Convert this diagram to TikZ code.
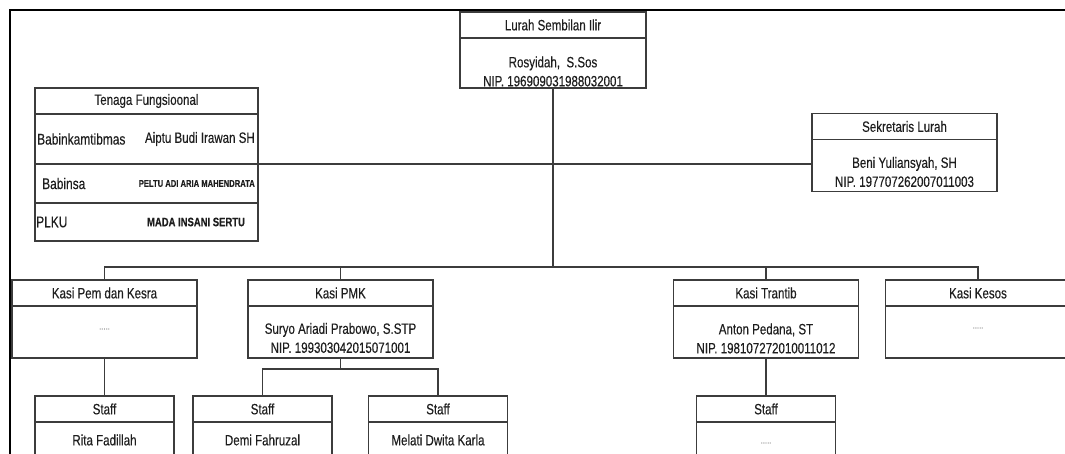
\documentclass[tikz,border=0pt]{standalone}
\usepackage{fontspec}
\setmainfont{Liberation Sans}[FakeStretch=0.77, FakeBold=0.3]
\usetikzlibrary{positioning}
\definecolor{boxgray}{HTML}{3C3C3C}
\definecolor{textgray}{HTML}{1E1E1E}

\begin{document}
\begin{tikzpicture}[x=1pt, y=-1pt,
    box/.style={draw=boxgray, line width=1.2pt, outer sep=0pt, inner sep=0pt,
        minimum height=26pt, text=textgray, font=\fontsize{15}{19}\selectfont},
    txt/.style={text=textgray, align=center, inner sep=0pt, font=\fontsize{15}{19}\selectfont},
    dots/.style={text=gray!70, inner sep=0pt, font=\fontsize{10}{10}\selectfont},
    link/.style={draw=boxgray, line width=1.1pt}]
    \useasboundingbox (0,0) rectangle (1065,454);
    % frame of the screenshot
    \draw[line width=2.5pt] (10,454) -- (10,9.8) -- (1065,9.8);
    % lurah
    \node[box, minimum width=186pt] (lurahH) at (553,25) {Lurah Sembilan Ilir};
    \node[box, minimum width=186pt, minimum height=50pt, below=0pt of lurahH] (lurahB) {};
    \node[txt] (lurahT) at ([yshift=-8.5pt]lurahB.center) {Rosyidah,\ \ S.Sos\\NIP. 196909031988032001};
    % sekretaris
    \node[box, minimum width=185pt] (sekH) at (904.5,126.5) {Sekretaris Lurah};
    \node[box, minimum width=185pt, minimum height=52pt, below=0pt of sekH] (sekB) {};
    \node[txt] (sekT) at ([yshift=-6.5pt]sekB.center) {Beni Yuliansyah, SH\\NIP. 197707262007011003};
    % tenaga fungsional
    \node[box, minimum width=223pt] (tfH) at (146.5,101) {Tenaga Fungsioonal};
    \node[box, minimum width=223pt, minimum height=50pt, below=0pt of tfH] (tfA) {};
    \node[box, minimum width=223pt, minimum height=39pt, below=0pt of tfA] (tfB) {};
    \node[box, minimum width=223pt, minimum height=38pt, below=0pt of tfB] (tfC) {};
    \node[txt, anchor=west, font=\fontsize{15.5}{17}\selectfont] (tfA-l) at ([xshift=2pt]tfA.west) {Babinkamtibmas};
    \node[txt, anchor=east] (tfA-r) at ([xshift=-3pt]tfA.east) {Aiptu Budi Irawan SH};
    \node[txt, anchor=west, font=\fontsize{15.5}{17}\selectfont] (tfB-l) at ([xshift=7pt]tfB.west) {Babinsa};
    \node[txt, anchor=east, font=\fontsize{9.9}{11}\selectfont\bfseries] (tfB-r) at ([xshift=-3pt]tfB.east) {PELTU ADI ARIA MAHENDRATA};
    \node[txt, anchor=west, font=\fontsize{15.5}{17}\selectfont] (tfC-l) at ([xshift=1pt]tfC.west) {PLKU};
    \node[txt, font=\fontsize{12.3}{13}\selectfont\bfseries] (tfC-r) at ([xshift=49.5pt]tfC.center) {MADA INSANI SERTU};
    % kasi
    \foreach \x/\n/\t in {104.5/pem/Kasi Pem dan Kesra, 340.5/pmk/Kasi PMK,
        766/trantib/Kasi Trantib, 978/kesos/Kasi Kesos} {
        \node[box, minimum width=185pt] (\n-h) at (\x,293) {\t};
        \node[box, minimum width=185pt, minimum height=52pt, below=0pt of \n-h] (\n-b) {};
    }
    \node[dots] (pem-t) at ([yshift=3pt]pem-b.center) {.....};
    \node[txt] (pmk-t) at ([yshift=-6pt]pmk-b.center) {Suryo Ariadi Prabowo, S.STP\\NIP. 199303042015071001};
    \node[txt] (trantib-t) at ([yshift=-6.5pt]trantib-b.center) {Anton Pedana, ST\\NIP. 198107272010011012};
    \node[dots] (kesos-t) at ([yshift=4pt]kesos-b.center) {.....};
    % staff
    \foreach \x/\n in {104.5/rita, 262.5/demi, 438/melati, 766/anton} {
        \node[box, minimum width=139pt] (\n-h) at (\x,409) {Staff};
        \node[box, minimum width=139pt, minimum height=40pt, below=0pt of \n-h] (\n-b) {};
    }
    \node[txt] (rita-t) at ([yshift=2pt]rita-b.center) {Rita Fadillah};
    \node[txt] (demi-t) at ([yshift=2pt]demi-b.center) {Demi Fahruzal};
    \node[txt] (melati-t) at ([yshift=2pt]melati-b.center) {Melati Dwita Karla};
    \node[dots] (anton-t) at ([yshift=-1pt]anton-b.center) {.....};
    % connectors
    \coordinate (bus) at (553,267);
    \coordinate (pmkbus) at (340.5,369);
    \draw[link] (lurahB.south) -- (bus);
    \draw[link] (tfA.south east) -- (tfA.south east -| sekB.west);
    \draw[link] (pem-h.north) |- (bus) -| (kesos-h.north);
    \draw[link] (pmk-h.north) -- (pmk-h.north |- bus);
    \draw[link] (trantib-h.north) -- (trantib-h.north |- bus);
    \draw[link] (pem-b.south) -- (rita-h.north);
    \draw[link] (trantib-b.south) -- (anton-h.north);
    \draw[link] (pmk-b.south) -- (pmkbus);
    \draw[link] (demi-h.north) |- (pmkbus) -| (melati-h.north);
\end{tikzpicture}
\end{document}
